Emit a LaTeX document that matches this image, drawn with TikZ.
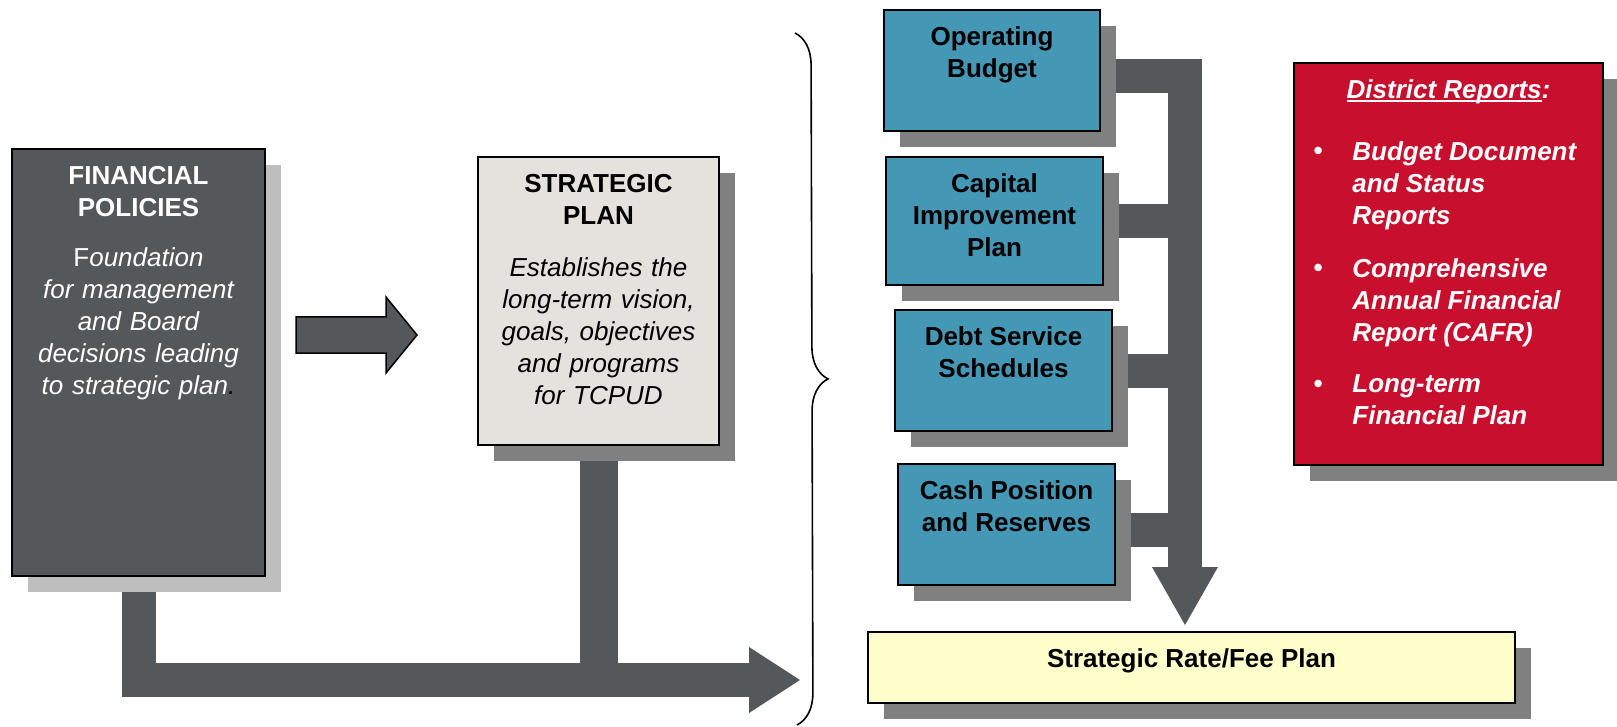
\documentclass[tikz,border=0pt]{standalone}
\usepackage{fontspec}
\setmainfont{Liberation Sans}
\usetikzlibrary{positioning,shadows,arrows.meta,backgrounds,decorations.pathreplacing}

\definecolor{slate}{HTML}{54585B}
\definecolor{paleshadow}{HTML}{BEBEBE}
\definecolor{shadowgray}{HTML}{808080}
\definecolor{stone}{HTML}{E3E2DC}
\definecolor{planblue}{HTML}{4497B5}
\definecolor{reportred}{HTML}{C8102E}
\definecolor{cream}{HTML}{FFFFCC}

\newsavebox\headbox
\newcommand\ulhead[1]{\sbox\headbox{#1}\rlap{\rule[-1.8pt]{\wd\headbox}{1pt}}\usebox\headbox}

\begin{document}
\begin{tikzpicture}[x=0.5pt, y=-0.5pt]
    \tikzset{box/.style={draw=black, line width=1pt, anchor=north west, inner sep=0pt,
                         drop shadow={shadow xshift=8pt, shadow yshift=-8pt, opacity=1, fill=#1}},
             box/.default=shadowgray,
             txt/.style={inner sep=0pt, align=center, font=\fontsize{13}{16}\selectfont},
             btxt/.style={txt, font=\fontsize{13}{16}\selectfont\bfseries},
             rtxt/.style={txt, text=white, font=\fontsize{13}{16}\selectfont\bfseries\itshape},
             pipe/.style={color=slate, line width=17pt},
             blockarrow/.style={draw=black, line width=0.75pt, fill=slate},
             curly/.style={decorate, decoration={brace, amplitude=16pt}, line width=0.8pt}}
    \useasboundingbox (0,0) rectangle (1617,727);

    \node[box=paleshadow, fill=slate, minimum width=126.5pt, minimum height=213.5pt] (fin) at (11,148) {};
    \node[box, fill=stone, minimum width=120.5pt, minimum height=144pt] (strat) at (477,156) {};
    \node[box, fill=planblue, minimum width=108pt, minimum height=60.5pt] (opbud) at (883,9) {};
    \node[box, fill=planblue, minimum width=108.5pt, minimum height=64pt] (capimp) at (885,156) {};
    \node[box, fill=planblue, minimum width=108.5pt, minimum height=60.5pt] (debt) at (894,309) {};
    \node[box, fill=planblue, minimum width=108.5pt, minimum height=60.5pt] (cash) at (897,463) {};
    \node[box, fill=cream, minimum width=323.5pt, minimum height=35.5pt] (rate) at (867,631) {};
    \node[box, fill=reportred, minimum width=154.5pt, minimum height=201pt] (rep) at (1293,62) {};

    \node[txt, text=white, text width=120pt, below=9pt of fin.north] (finT)
        {{\bfseries FINANCIAL\\POLICIES}\\[9pt]F\itshape oundation\\for management\\and Board\\decisions leading\\to strategic plan{\color{black}.}};
    \node[txt, text width=118pt, below=9pt of strat.north] (stratT)
        {{\bfseries STRATEGIC\\PLAN}\\[10pt]\itshape Establishes the\\long-term vision,\\goals, objectives\\and programs\\for TCPUD};
    \node[btxt, below=8.5pt of opbud.north] (opbudT) {Operating\\Budget};
    \node[btxt, below=8.5pt of capimp.north] (capimpT) {Capital\\Improvement\\Plan};
    \node[btxt, below=8.5pt of debt.north] (debtT) {Debt Service\\Schedules};
    \node[btxt, below=8.5pt of cash.north] (cashT) {Cash Position\\and Reserves};
    \node[btxt, below=8.5pt of rate.north] (rateT) {Strategic Rate/Fee Plan};
    \node[rtxt, below=8.5pt of rep.north] (repT) {\ulhead{District Reports}:};
    \foreach \y/\txt [count=\i] in {160/{Budget Document\\and Status\\Reports},
                                    277/{Comprehensive\\Annual Financial\\Report (CAFR)},
                                    393/{Long-term\\Financial Plan}}{
        \node[rtxt, anchor=base] (dot\i) at (1318,\y) {\textbullet};
        \node[rtxt, align=left, anchor=north west] (item\i) at (1352,\y-19) {\txt};
    }

    \coordinate (bk) at (296,335);
    \draw[blockarrow] (bk) ++(0,-18) -- ++(90,0) -- ++(0,-20) -- ++(31,38) -- ++(-31,38)
        -- ++(0,-20) -- ++(-90,0) -- cycle;

    \coordinate (busend) at (800,680);
    \coordinate (trk) at (1185,76);
    \coordinate (brT) at (795,33);
    \coordinate (brB) at (797,725);
    \draw[curly] (brT) -- (brB);

    \begin{scope}[on background layer]
        \draw[pipe, -{Triangle[line width=0pt, width=33pt, length=25.5pt]}] (fin.south) |- (busend);
        \draw[pipe, line width=19pt] (strat.south) -- (strat.south |- busend);
        \draw[pipe, shorten >=3pt, -{Triangle[line width=0pt, width=33pt, length=29pt]}]
            (opbud.east |- trk) -- (trk) -- (trk |- rate.north);
        \path[pipe]
            (capimp.east) edge (capimp.east -| trk)
            (debt.east) edge (debt.east -| trk)
            ([yshift=-2.5pt]cash.east) edge ([yshift=-2.5pt]cash.east -| trk);
    \end{scope}
\end{tikzpicture}
\end{document}
